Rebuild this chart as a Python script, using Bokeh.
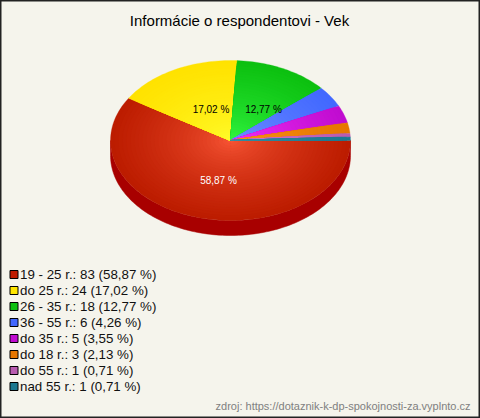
import numpy as np
from bokeh.plotting import figure
from bokeh.core.properties import value
from bokeh.embed import file_html
from bokeh.resources import INLINE

TITLE = "Informácie o respondentovi - Vek"
FOOTER = "zdroj: https://dotaznik-k-dp-spokojnosti-za.vyplnto.cz"
categories = ["19 - 25 r.", "do 25 r.", "26 - 35 r.", "36 - 55 r.", "do 35 r.", "do 18 r.", "do 55 r.", "nad 55 r."]
counts = [83, 24, 18, 6, 5, 3, 1, 1]
percents = ["58,87", "17,02", "12,77", "4,26", "3,55", "2,13", "0,71", "0,71"]
rim_colors = [(188, 28, 0), (255, 226, 0), (12, 192, 16), (66, 104, 255), (192, 12, 208), (230, 118, 0), (184, 92, 176), (28, 120, 144)]
mid_colors = [(255, 92, 60), (255, 255, 48), (56, 255, 72), (120, 150, 255), (255, 56, 255), (255, 156, 32), (232, 130, 216), (60, 150, 170)]
legend_colors = ["#c01c00", "#ffe600", "#0cc010", "#4268ff", "#c00cd0", "#e67600", "#b85cb0", "#1c7890"]

W, H = 480, 418
BG = "#f5f4ec"
CX, CY, RX, RY, DEPTH = 230, 140, 120, 80, 15

p = figure(width=W, height=H, x_range=(0, W), y_range=(H, 0), output_backend="svg",
           toolbar_location=None, min_border=0, background_fill_color=BG, border_fill_color=BG,
           outline_line_color="#222222", outline_line_width=2, margin=(0, 0, 0, 0))
p.axis.visible = False
p.grid.visible = False

total = sum(counts)
edges = np.cumsum([0] + counts) / total * 2 * np.pi

# side wall
t = np.linspace(0, np.pi, 120)
xs = np.concatenate([CX + RX * np.cos(t), CX + RX * np.cos(t[::-1])])
ys = np.concatenate([CY + DEPTH + RY * np.sin(t), CY + RY * np.sin(t[::-1])])
p.patch(xs, ys, fill_color="#a80000", line_color="#a80000", line_width=0.5)

# top face with radial shading
RINGS = 30
for i in range(len(counts)):
    a = np.linspace(edges[i], edges[i + 1], max(3, int((edges[i + 1] - edges[i]) * 40)))
    px, py, col = [], [], []
    for k in range(RINGS):
        f = 1 - k / RINGS
        px.append(np.concatenate([[CX], CX + f * RX * np.cos(a)]))
        py.append(np.concatenate([[CY], CY + f * RY * np.sin(a)]))
        g = f ** 0.6
        c = [int(round(m + (r - m) * g)) for r, m in zip(rim_colors[i], mid_colors[i])]
        col.append("#%02x%02x%02x" % tuple(c))
    p.patches(px, py, fill_color=col, line_color=col, line_width=0.3)

# slice labels
lab_idx = [0, 1, 2]
lab_x = [218, 210.5, 263]
lab_y = [180, 109, 109]
lab_col = ["#ffffff", "#000000", "#000000"]
p.text(lab_x, lab_y, text=[percents[i] + " %" for i in lab_idx], text_color=lab_col,
       text_font=value("Liberation Sans"), text_font_size="10px", text_align="center", text_baseline="middle")

# title
p.text([239], [20], text=[TITLE], text_color="#000000", text_font=value("Liberation Sans"),
       text_font_size="15px", text_align="center", text_baseline="middle")

# legend
rows = 274 + 16 * np.arange(len(categories))
p.rect(np.full(len(rows), 13.5), rows, width=8, height=8, fill_color=legend_colors, line_color="#000000", line_width=1)
p.text(np.full(len(rows), 19.5), rows, text=[f"{c}: {n} ({q} %)" for c, n, q in zip(categories, counts, percents)],
       text_color="#111111", text_font=value("Liberation Sans"), text_font_size="13.33px", text_baseline="middle")

# source
p.text([470], [405], text=[FOOTER], text_color="#808080", text_font=value("Liberation Sans"),
       text_font_size="11px", text_align="right", text_baseline="middle")

open("out.html", "w").write(file_html(p, INLINE))
